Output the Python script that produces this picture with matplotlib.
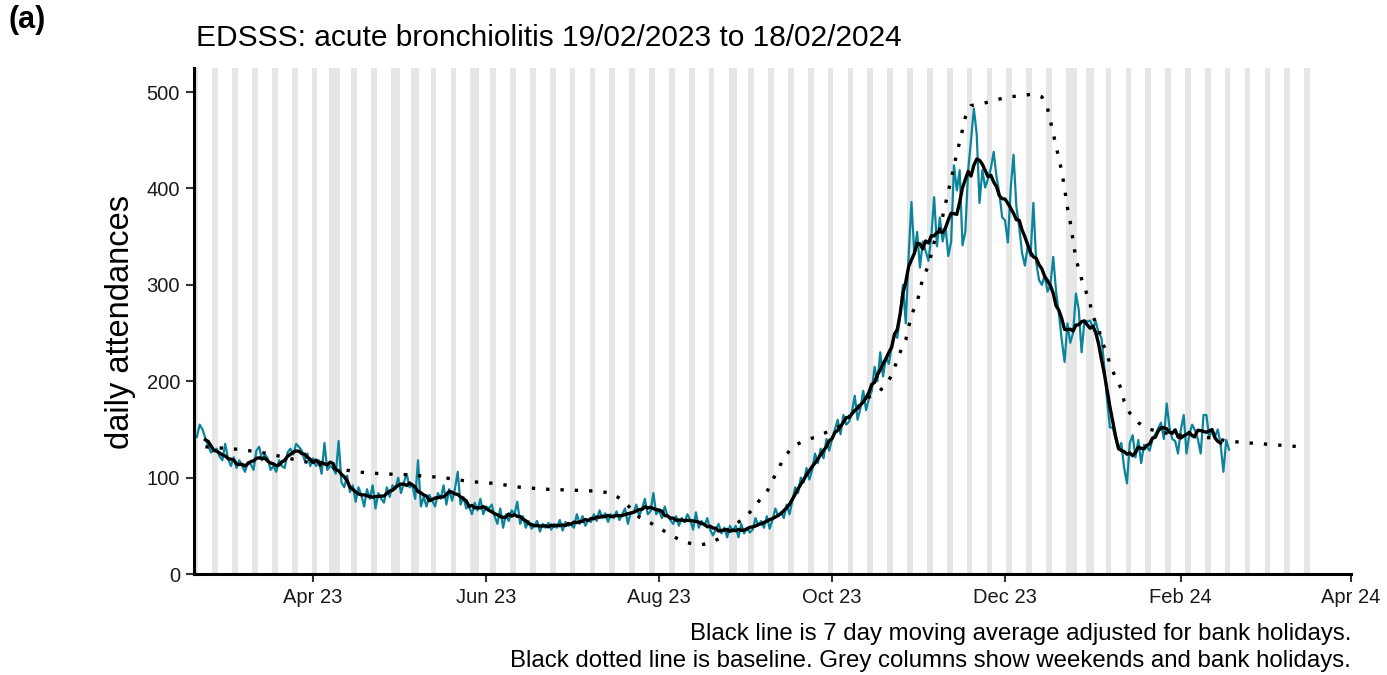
import pandas as pd
import matplotlib
matplotlib.use("Agg")
import matplotlib.pyplot as plt
import matplotlib.dates as mdates

plt.rcParams['font.family'] = ['Liberation Sans', 'DejaVu Sans']

# daily attendances, one row per week (Sun..Sat), from 19/02/2023
first_day = "2023-02-19"
daily = [
    142, 155, 150, 141, 133, 126, 128,
    130, 122, 118, 135, 120, 112, 121,
    110, 118, 112, 106, 116, 114, 108,
    128, 132, 118, 124, 120, 108, 112,
    106, 118, 112, 110, 126, 130, 124,
    135, 132, 128, 118, 125, 112, 120,
    112, 118, 104, 136, 108, 112, 110,
    104, 138, 95, 90, 102, 85, 92,
    75, 90, 82, 70, 88, 78, 92,
    68, 84, 78, 74, 90, 80, 92,
    88, 100, 84, 95, 104, 90, 92,
    78, 118, 70, 80, 70, 82, 76,
    70, 84, 78, 92, 72, 88, 76,
    88, 106, 72, 80, 68, 70, 62,
    74, 66, 78, 62, 70, 68, 72,
    60, 52, 68, 48, 62, 55, 66,
    62, 75, 52, 60, 48, 55, 47,
    50, 55, 44, 52, 48, 53, 46,
    52, 48, 56, 45, 54, 50, 51,
    48, 62, 52, 60, 50, 56, 54,
    62, 55, 66, 58, 63, 54, 62,
    58, 65, 56, 62, 68, 52, 64,
    64, 72, 60, 68, 78, 62, 65,
    84, 62, 66, 58, 70, 60, 56,
    52, 60, 50, 58, 54, 62, 56,
    46, 64, 48, 55, 50, 58, 46,
    40, 46, 52, 42, 48, 38, 50,
    44, 50, 38, 52, 42, 48, 43,
    46, 58, 50, 55, 48, 60, 47,
    56, 68, 60, 64, 58, 72, 62,
    76, 90, 84, 100, 95, 110, 98,
    108, 125, 115, 130, 120, 140, 128,
    140, 150, 160, 145, 165, 155, 158,
    168, 185, 160, 172, 190, 170, 182,
    190, 215, 200, 230, 205, 225, 218,
    235, 250, 245, 268, 300, 260, 330,
    386, 333, 355, 318, 345, 335, 325,
    350, 391, 340, 370, 345, 360, 330,
    345, 424, 398, 419, 341, 355, 419,
    450, 483, 457, 385, 419, 401, 410,
    421, 438, 412, 395, 370, 367, 344,
    400, 435, 381, 360, 333, 320, 340,
    330, 385, 323, 305, 300, 310, 293,
    300, 329, 293, 270, 243, 220, 260,
    240, 250, 291, 274, 230, 263, 262,
    263, 255, 262, 250, 245, 215, 180,
    152, 152, 140, 129, 136, 110, 94,
    136, 144, 121, 139, 115, 134, 132,
    128, 140, 145, 151, 157, 140, 177,
    152, 140, 138, 125, 150, 165, 125,
    145, 155, 149, 140, 125, 165, 165,
    142, 150, 142, 150, 135, 106, 139,
    129,
]

# baseline: day number counted from 18/02/2023, and value
base_origin = "2023-02-18"
baseline_day = [4, 17, 26, 35, 40, 48, 57, 66, 75, 88, 97, 106, 115, 124, 133,
                142, 147, 151, 154, 157, 161, 165, 169, 173, 178, 182, 186, 189,
                193, 196, 199, 202, 204, 206, 208, 211, 215, 219, 223, 227, 230,
                233, 237, 241, 244, 246, 249, 251, 253, 255, 257, 259, 261, 263,
                265, 267, 268, 269, 270, 271, 272, 274, 278, 283, 287, 291, 296,
                299, 301, 302, 303, 304, 305, 306, 307, 308, 309, 311, 313, 314,
                316, 317, 319, 320, 322, 323, 325, 327, 328, 330, 333, 336, 341,
                350, 360, 364, 368, 372, 377, 381, 386, 390]
baseline = [132, 129, 125, 119, 116, 111, 106, 104, 103, 100, 96, 94, 90, 88, 87,
            86, 84, 77, 68, 59, 53, 46, 39, 33, 30, 32, 38, 47,
            56, 64, 75, 85, 97, 109, 120, 132, 138, 142, 147, 152, 160,
            170, 182, 188, 196, 206, 230, 243, 269, 282, 307, 320, 344, 358,
            384, 410, 423, 437, 448, 461, 474, 486, 488, 492, 495, 496, 498,
            495, 483, 470, 457, 444, 431, 418, 400, 380, 365, 327, 306, 298,
            280, 267, 255, 242, 229, 217, 204, 192, 179, 167, 157, 151, 147,
            143, 141, 138, 137, 136, 135, 134, 133, 132]

bank_holidays = ["2023-04-07", "2023-04-10", "2023-05-01", "2023-05-08",
                 "2023-05-29", "2023-08-28", "2023-12-25", "2023-12-26",
                 "2024-01-01"]
shade_last = "2024-03-17"

title = "EDSSS: acute bronchiolitis 19/02/2023 to 18/02/2024"
caption = ["Black line is 7 day moving average adjusted for bank holidays.",
           "Black dotted line is baseline. Grey columns show weekends and bank holidays."]

# series
dates = pd.date_range(first_day, periods=len(daily), freq="D")
counts = pd.Series(daily, index=dates)
avg7 = counts.rolling(7, center=True).mean()
base_dates = pd.Timestamp(base_origin) + pd.to_timedelta(baseline_day, unit="D")

days = pd.date_range(first_day, shade_last, freq="D")
grey = days[(days.dayofweek >= 5) | days.isin(pd.to_datetime(bank_holidays))]

W, H = 1387, 675
fig = plt.figure(figsize=(W / 100, H / 100), dpi=100)
ax = fig.add_axes([194 / W, 101 / H, (1351 - 194) / W, (574 - 68) / H])

ymax = 525
ax.bar(grey, ymax, width=1.0, bottom=0, color="#e6e6e6", linewidth=0,
       antialiased=False, zorder=1)
ax.plot(counts.index, counts.values, color="#0b849b", lw=1.6, zorder=2)
ax.plot(avg7.index, avg7.values, color="black", lw=2.4, zorder=3)
ax.plot(base_dates, baseline, color="black", lw=2.4, linestyle=(0, (1, 3.3)),
        zorder=4)

ax.set_xlim(pd.Timestamp("2023-02-18"), pd.Timestamp("2024-04-01"))
ax.set_ylim(0, ymax)
ax.set_yticks([0, 100, 200, 300, 400, 500])
ax.xaxis.set_major_locator(mdates.MonthLocator(bymonth=[2, 4, 6, 8, 10, 12]))
ax.xaxis.set_major_formatter(mdates.DateFormatter("%b %y"))

for side in ["top", "right"]:
    ax.spines[side].set_visible(False)
for side in ["left", "bottom"]:
    ax.spines[side].set_linewidth(2.2)
    ax.spines[side].set_color("black")
ax.tick_params(length=6, width=1.5, color="#333333", labelsize=14.5,
               labelcolor="#1a1a1a", pad=4)

fig.text(8 / W, 1 - 20 / H, "(a)", fontsize=22, fontweight="bold", va="center")
fig.text(196 / W, 1 - 38 / H, title, fontsize=21.5, va="center")
fig.text(120 / W, 1 - 322 / H, "daily attendances", fontsize=23.5,
         rotation=90, ha="center", va="center")
fig.text(1351 / W, 1 - 634 / H, caption[0], fontsize=17.3, ha="right", va="center")
fig.text(1351 / W, 1 - 661 / H, caption[1], fontsize=17.3, ha="right", va="center")

fig.savefig("out.png", dpi=100)
